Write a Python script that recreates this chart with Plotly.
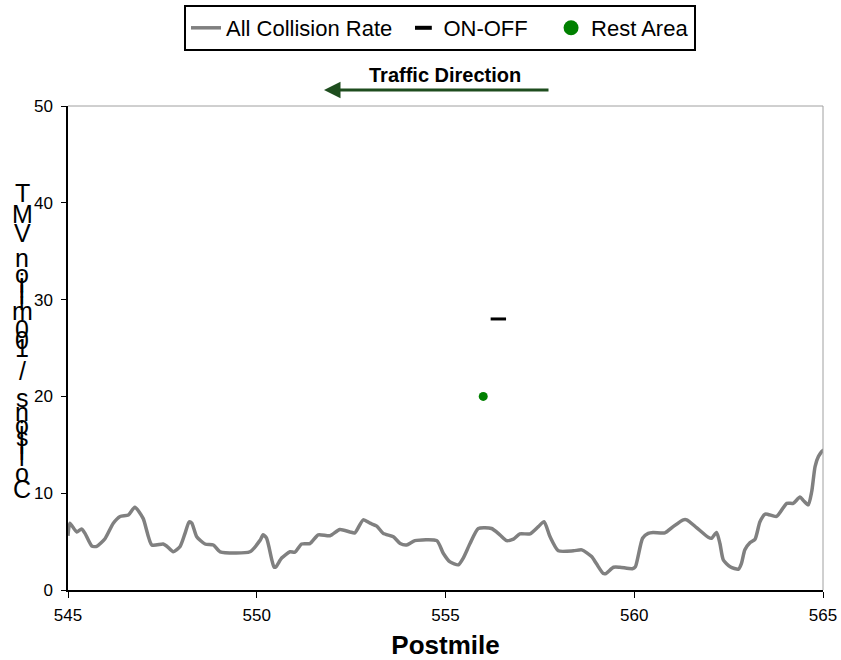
import plotly.graph_objects as go

# ---------------- data ----------------
postmile = [545.00, 545.05, 545.23, 545.36, 545.45, 545.63, 545.76, 545.98, 546.20, 546.38,
            546.60, 546.77, 546.99, 547.22, 547.52, 547.61, 547.79, 547.97, 548.10, 548.21,
            548.28, 548.41, 548.63, 548.85, 549.03, 549.82, 550.09, 550.17, 550.26, 550.40,
            550.46, 550.51, 550.66, 550.88, 551.01, 551.19, 551.41, 551.63, 551.94, 552.20,
            552.47, 552.60, 552.82, 553.00, 553.18, 553.35, 553.62, 553.80, 553.97, 554.19,
            554.77, 554.94, 555.12, 555.34, 555.47, 555.65, 555.87, 556.22, 556.44, 556.62,
            556.80, 556.97, 557.24, 557.46, 557.61, 557.77, 557.99, 558.39, 558.61, 558.87,
            559.00, 559.18, 559.25, 559.45, 559.62, 559.95, 560.03, 560.22, 560.37, 560.50,
            560.81, 561.03, 561.30, 561.39, 561.65, 561.96, 562.05, 562.18, 562.27, 562.36,
            562.54, 562.76, 562.84, 562.93, 563.07, 563.20, 563.33, 563.47, 563.77, 564.04,
            564.21, 564.39, 564.48, 564.61, 564.70, 564.79, 564.88, 565.01, 565.17]
collision_rate = [5.6, 6.9, 6.0, 6.3, 5.85, 4.55, 4.5, 5.3, 6.9, 7.6,
                  7.75, 8.55, 7.4, 4.65, 4.75, 4.55, 3.95, 4.5, 5.85, 7.05,
                  6.9, 5.5, 4.75, 4.65, 3.95, 3.95, 5.15, 5.7, 5.35, 3.1,
                  2.35, 2.4, 3.3, 3.95, 3.9, 4.75, 4.8, 5.7, 5.6, 6.25,
                  6.0, 5.9, 7.25, 6.9, 6.6, 5.85, 5.5, 4.8, 4.65, 5.1,
                  5.1, 3.8, 2.9, 2.6, 3.3, 4.8, 6.35, 6.35, 5.7, 5.1,
                  5.25, 5.8, 5.8, 6.55, 7.05, 5.5, 4.05, 4.05, 4.15, 3.45,
                  2.7, 1.7, 1.7, 2.35, 2.35, 2.2, 2.4, 5.35, 5.85, 5.95,
                  5.9, 6.55, 7.25, 7.25, 6.45, 5.45, 5.35, 5.95, 4.8, 3.1,
                  2.4, 2.15, 2.75, 4.15, 4.9, 5.25, 7.05, 7.85, 7.6, 8.95,
                  8.95, 9.6, 9.25, 8.8, 10.15, 12.75, 13.8, 14.45, 12.75]

onoff_postmile = [556.4]
onoff_value = [28]
rest_postmile = [556.0]
rest_value = [20]

x_tick_values = [545, 550, 555, 560, 565]
y_tick_values = [0, 10, 20, 30, 40, 50]

series_names = ["All Collision Rate", "ON-OFF", "Rest Area"]
x_title = "Postmile"
y_title = "Collisions/100 million VMT"
direction_label = "Traffic Direction"

# ---------------- layout geometry ----------------
W, H = 841, 660
L, R, T, B = 68, 823, 106, 590
FONT = "Liberation Sans, Arial, sans-serif"
NB = "\u00a0"  # spacing in legend entries


def px_x(px):
    return (px - L) / (R - L)


def px_y(py):
    return (B - py) / (B - T)


fig = go.Figure()

fig.add_trace(go.Scatter(
    x=postmile, y=collision_rate, mode="lines", name=series_names[0] + NB,
    line=dict(color="#808080", width=3.5, shape="spline", smoothing=0.6),
))
fig.add_trace(go.Scatter(
    x=onoff_postmile, y=onoff_value, mode="markers", name=series_names[1],
    showlegend=False,
    marker=dict(symbol="line-ew", size=11, color="black",
                line=dict(color="black", width=3)),
))
fig.add_trace(go.Scatter(
    x=rest_postmile, y=rest_value, mode="markers", name=series_names[2],
    showlegend=False,
    marker=dict(symbol="circle", size=9, color="#008000"),
))
# legend entries (larger symbols, as in the original legend)
fig.add_trace(go.Scatter(
    x=[None], y=[None], mode="markers", name=series_names[1] + NB * 3,
    marker=dict(symbol="line-ew", size=12, color="black",
                line=dict(color="black", width=4)),
))
fig.add_trace(go.Scatter(
    x=[None], y=[None], mode="markers", name=series_names[2],
    marker=dict(symbol="circle", size=15, color="#008000"),
))

# stacked y-axis title, one character per line (top to bottom)
stack_chars = [c for c in reversed(y_title) if c != " "]
stack_centers = [194, 215, 234, 257, 273, 282, 288, 294, 300, 310, 328, 339, 347,
                 370, 397, 411, 424, 430, 436, 444, 450, 456, 472, 490]
annotations = []
for ch, cy in zip(stack_chars, stack_centers):
    adj = -1 if ch.isupper() else 1
    annotations.append(dict(
        text=ch, xref="paper", yref="paper", x=px_x(22), y=px_y(cy + adj),
        xanchor="center", yanchor="middle", showarrow=False,
        font=dict(family=FONT, size=25, color="black"),
    ))

# traffic direction label + arrow
annotations.append(dict(
    text="<b>" + direction_label + "</b>", xref="paper", yref="paper",
    x=px_x(445), y=px_y(75), xanchor="center", yanchor="middle", showarrow=False,
    font=dict(family=FONT, size=20, color="black"),
))
annotations.append(dict(
    text="", xref="paper", yref="paper", x=px_x(324), y=px_y(90),
    ax=226, ay=0, showarrow=True, arrowhead=2, arrowsize=1.1, arrowwidth=3,
    arrowcolor="#1e4d1e",
))

fig.update_layout(
    width=W, height=H, autosize=False,
    margin=dict(l=L, r=W - R, t=T, b=H - B, pad=0, autoexpand=False),
    paper_bgcolor="white", plot_bgcolor="white",
    font=dict(family=FONT, size=17, color="black"),
    showlegend=True,
    legend=dict(
        orientation="h", x=px_x(440), y=px_y(5), xanchor="center", yanchor="top",
        bordercolor="black", borderwidth=2, bgcolor="white",
        font=dict(family=FONT, size=22, color="black"),
        itemsizing="trace",
    ),
    annotations=annotations,
    shapes=[
        dict(type="line", xref="paper", yref="paper", x0=0, x1=1, y0=1, y1=1,
             line=dict(color="#a0a0a0", width=1)),
        dict(type="line", xref="paper", yref="paper", x0=1, x1=1, y0=0, y1=1,
             line=dict(color="#a0a0a0", width=1)),
    ],
)

fig.update_xaxes(
    range=[545, 565], tickvals=x_tick_values, showgrid=False, zeroline=False,
    showline=True, linecolor="black", linewidth=1.5, automargin=False,
    ticks="outside", ticklen=6, tickcolor="black", tickwidth=1,
    ticklabelstandoff=3,
    tickfont=dict(family=FONT, size=17),
    title=dict(text="<b>" + x_title + "</b>", font=dict(family=FONT, size=26), standoff=15),
)
fig.update_yaxes(
    range=[0, 50], tickvals=y_tick_values, showgrid=False, zeroline=False,
    showline=True, linecolor="black", linewidth=1.5, automargin=False,
    ticks="outside", ticklen=5, tickcolor="black", tickwidth=1,
    ticklabelstandoff=5,
    tickfont=dict(family=FONT, size=17),
)

fig.write_html("out.html", config={"displayModeBar": False},
               post_script="document.body.style.margin='0px';document.body.style.overflow='hidden';")
